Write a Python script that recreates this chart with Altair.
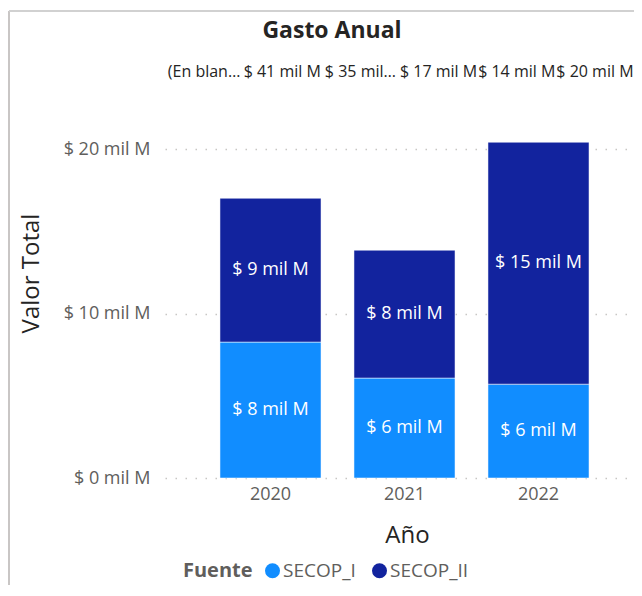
import altair as alt
import pandas as pd

anios = ["2020", "2021", "2022"]
fuentes = ["SECOP_I", "SECOP_II"]
secop_i = [8.27, 6.08, 5.71]
secop_ii = [8.75, 7.78, 14.72]
colores = ["#118DFF", "#12239E"]
y_ticks = [0, 10, 20]
etiquetas_sup = ["(En blan…", "$ 41 mil M", "$ 35 mil…", "$ 17 mil M", "$ 14 mil M", "$ 20 mil M"]

rows = []
for a, v1, v2 in zip(anios, secop_i, secop_ii):
    rows.append({"anio": a, "fuente": fuentes[0], "valor": v1, "orden": 0})
    rows.append({"anio": a, "fuente": fuentes[1], "valor": v2, "orden": 1})
df = pd.DataFrame(rows)
top_df = pd.DataFrame({"pos": list(range(len(etiquetas_sup))), "txt": etiquetas_sup})

FONT = "Open Sans"
GRIS = "#605E5C"
OSCURO = "#252423"

base = alt.Chart(df).transform_stack(
    stack="valor", groupby=["anio"], as_=["v0", "v1"], sort=[alt.SortField("orden")]
).transform_calculate(
    mid="(datum.v0 + datum.v1) / 2",
    etiqueta="'$ ' + format(datum.valor, '.0f') + ' mil M'",
)

escala_x = alt.Scale(paddingInner=0.246, paddingOuter=0.373, align=0.55, round=False)

xenc = alt.X(
    "anio:N", sort=anios, title="Año", scale=escala_x,
    axis=alt.Axis(labelAngle=0, ticks=False, domain=False, grid=False,
                  labelFontSize=18, labelColor=GRIS, labelPadding=7, labelFont=FONT,
                  titleFontSize=24, titleColor=OSCURO, titleFontWeight="normal",
                  titleFont=FONT, titleX=242, titleY=64, titleBaseline="alphabetic"),
)
yenc = alt.Y(
    "v0:Q", title="Valor Total", scale=alt.Scale(domain=[0, 23], nice=False),
    axis=alt.Axis(values=y_ticks, labelExpr="'$ ' + datum.value + ' mil M'",
                  ticks=False, domain=False, grid=True, gridDash=[1.5, 8.5],
                  gridColor="#C8C6C4", gridWidth=1.5,
                  labelFontSize=18, labelColor=GRIS, labelPadding=15, labelFont=FONT,
                  titleFontSize=24, titleColor=OSCURO, titleFontWeight="normal",
                  titleFont=FONT, titleX=-127, titleY=173, titleBaseline="alphabetic"),
)

bars = base.mark_bar(stroke="#ffffff", strokeWidth=1, strokeOpacity=0.5).encode(
    x=xenc, y=yenc, y2="v1:Q",
    color=alt.Color(
        "fuente:N", title="Fuente",
        scale=alt.Scale(domain=fuentes, range=colores),
        legend=alt.Legend(orient="none", legendX=18, legendY=461, direction="horizontal",
                          titleOrient="left", titleFontSize=20, titleFontWeight="bold",
                          titleColor=GRIS, titleFont=FONT, labelFont=FONT,
                          labelFontSize=19, labelColor=GRIS, symbolType="circle",
                          symbolSize=225, symbolStrokeWidth=0, symbolOpacity=1,
                          labelOffset=1, columnPadding=14, titlePadding=10, padding=0),
    ),
)

textos = base.mark_text(color="white", fontSize=18, font=FONT).encode(
    x=alt.X("anio:N", sort=anios, scale=escala_x), y=alt.Y("mid:Q"), text="etiqueta:N"
)

superior = alt.Chart(top_df).mark_text(fontSize=16, color=OSCURO, font=FONT, baseline="middle").encode(
    x=alt.X("pos:O", scale=alt.Scale(paddingInner=0, paddingOuter=0), axis=None),
    y=alt.value(-28),
    text="txt:N",
)

marco_izq = alt.Chart(top_df).mark_rule(color="#C8C6C4", strokeWidth=1.5).encode(
    x=alt.value(-156), y=alt.value(-89), y2=alt.value(500)
)
marco_sup = alt.Chart(top_df).mark_rule(color="#D0D0D0", strokeWidth=1.5).encode(
    x=alt.value(-156), x2=alt.value(480), y=alt.value(-89)
)

chart = alt.layer(
    alt.layer(bars, textos), superior, marco_izq, marco_sup
).resolve_scale(x="independent").properties(
    width=469, height=378,
    autosize=alt.AutoSizeParams(type="none"),
    padding={"left": 157, "top": 92, "right": 0, "bottom": 107},
    title=alt.TitleParams("Gasto Anual", font=FONT, fontSize=23, fontWeight="bold",
                          color=OSCURO, anchor="middle", frame="bounds", dy=37, dx=5),
).configure_view(stroke=None)

chart.save("out.html", embed_options={"renderer": "svg", "actions": False})
